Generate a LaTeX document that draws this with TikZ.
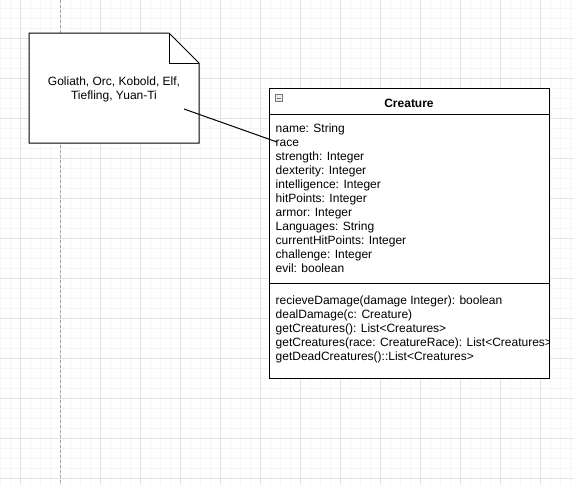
\documentclass[tikz,border=0pt]{standalone}
\usepackage{fontspec}
\setmainfont{Liberation Sans}
\usepackage{xcolor}
\definecolor{gridmajor}{RGB}{228,228,228}
\definecolor{gridminor}{RGB}{246,246,246}
\definecolor{guidegray}{RGB}{165,165,165}
\definecolor{icongray}{RGB}{120,120,120}
\usepackage{tikz}
\tikzstyle{member} = [anchor=base west, inner sep=0pt,
  font=\fontsize{12}{14}\selectfont]
\tikzstyle{classtitle} = [anchor=base, inner sep=0pt,
  font=\fontsize{12}{14}\selectfont\bfseries]
\tikzstyle{notetext} = [anchor=base, inner sep=0pt,
  font=\fontsize{12}{14}\selectfont]
\tikzstyle{umlshape} = [draw=black, line width=1pt, fill=white]

\begin{document}
\begin{tikzpicture}[x=1pt, y=-1pt]
  \useasboundingbox[fill=white] (0,0) rectangle (574,485);
  % background grid
  \foreach \x in {0,10,...,570} \draw[gridminor, line width=0.8pt] (\x,0) -- (\x,485);
  \foreach \y in {8,18,...,478} \draw[gridminor, line width=0.8pt] (0,\y) -- (574,\y);
  \foreach \x in {20,60,...,540} \draw[gridmajor, line width=0.8pt] (\x,0) -- (\x,485);
  \foreach \y in {38,78,...,478} \draw[gridmajor, line width=0.8pt] (0,\y) -- (574,\y);
  \draw[guidegray, line width=0.8pt, dash pattern=on 3pt off 2pt] (60,0) -- (60,485);

  % note
  \path[umlshape] (29,33) -- (169,33) -- (199,63) -- (199,143) -- (29,143) -- cycle;
  \path[draw, line width=0.8pt] (169,33) -- (169,63) -- (199,63);
  \node[notetext] (races) at (114,85.5) {Goliath, Orc, Kobold, Elf,};
  \node[notetext] (races2) at (114,99.5) {Tiefling, Yuan-Ti};

  % class
  \path[umlshape] (269,88) rectangle (549,378);
  \path[draw, line width=1pt] (269,114) -- (549,114);
  \path[draw, line width=1pt] (269,283) -- (549,283);
  \path[draw=icongray, fill=gray!15, line width=0.6pt] (275,94.5) rectangle (282,101.5);
  \path[draw=icongray, line width=0.8pt] (276.5,98) -- (280.5,98);
  \node[classtitle] (creature) at (409,107) {Creature};

  \foreach \t [count=\i] in {name: String, race, strength: Integer,
      dexterity: Integer, intelligence: Integer, hitPoints: Integer,
      armor: Integer, Languages: String, currentHitPoints: Integer,
      challenge: Integer, evil: boolean}
    \node[member] (attr\i) at (275.5, 118+14*\i) {\t};

  \begin{scope}
    \clip (269,283) rectangle (548.5,378);
    \foreach \t [count=\i] in {recieveDamage(damage Integer): boolean,
        dealDamage(c: Creature), getCreatures(): List<Creatures>,
        getCreatures(race: CreatureRace): List<Creatures>,
        getDeadCreatures()::List<Creatures>}
      \node[member] (op\i) at (275.5, 290+14*\i) {\t};
  \end{scope}

  \coordinate (notehook) at (184,109);
  \coordinate (racehook) at (277,142);
  \path[draw, line width=1pt] (notehook) -- (racehook);
\end{tikzpicture}
\end{document}
